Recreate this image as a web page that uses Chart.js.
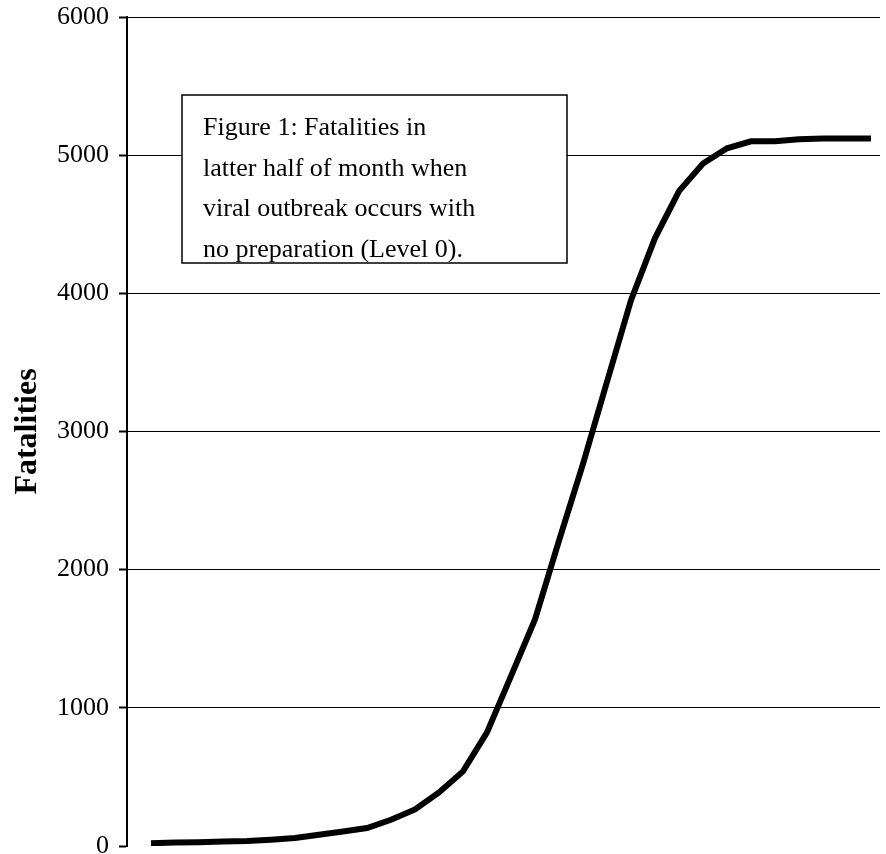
<!DOCTYPE html>
<html>
<head>
<meta charset="utf-8">
<title>Fatalities</title>
<script src="https://cdn.jsdelivr.net/npm/chart.js"></script>
<style>
  html, body { margin: 0; padding: 0; background: #fff; }
  .canvasGraphic { width: 886px; height: 854px; }
</style>
</head>
<body>
<div class="canvasGraphic">
  <canvas id="myCanvas" width="886" height="854"></canvas>
</div>
<script>
// half-day steps over the latter half of the month (no labels shown on the x axis)
const steps = [
  1, 2, 3, 4, 5, 6, 7, 8, 9, 10, 11, 12, 13, 14, 15, 16,
  17, 18, 19, 20, 21, 22, 23, 24, 25, 26, 27, 28, 29, 30, 31];

const fatalities = [
  20, 25, 28, 32, 36, 46, 58, 82, 105, 130, 190, 265, 388, 540, 822, 1230,
  1640, 2210, 2765, 3360, 3950, 4400, 4740, 4940, 5050, 5100, 5100, 5115, 5120, 5120, 5120];

const yTicks = [0, 1000, 2000, 3000, 4000, 5000, 6000];

const noteLines = [
  "Figure 1: Fatalities in",
  "latter half of month when",
  "viral outbreak occurs with",
  "no preparation (Level 0)."];

const serif = "'Liberation Serif', 'Times New Roman', serif";

// white note box with a black frame, sitting on top of the grid lines
const noteBox = {
  id: "noteBox",
  beforeDatasetsDraw(chart) {
    const { ctx, chartArea } = chart;
    const left = chartArea.left + 55;
    const top = chartArea.top + 78;
    const w = 385;
    const h = 168;
    ctx.save();
    ctx.fillStyle = "#fff";
    ctx.fillRect(left, top, w, h);
    ctx.strokeStyle = "#000";
    ctx.lineWidth = 1.5;
    ctx.strokeRect(left, top, w, h);
    ctx.fillStyle = "#000";
    ctx.font = "26px " + serif;
    ctx.textBaseline = "alphabetic";
    noteLines.forEach((line, i) => {
      ctx.fillText(line, left + 21, top + 40 + i * 40.7);
    });
    ctx.restore();
  },
};

const chart = new Chart(document.getElementById("myCanvas"), {
  type: "line",
  data: {
    datasets: [
      {
        label: "Fatalities",
        data: steps.map((s, i) => ({ x: s, y: fatalities[i] })),
        borderColor: "#000",
        borderWidth: 6,
        borderCapStyle: "butt",
        pointRadius: 0,
        fill: false,
        tension: 0,
      },
    ],
  },
  options: {
    responsive: false,
    animation: false,
    layout: { padding: { top: 17, bottom: 8, left: 0, right: 6 } },
    plugins: {
      legend: { display: false },
      tooltip: { enabled: false },
    },
    scales: {
      x: {
        type: "linear",
        display: false,
        min: 0,
        max: 31.375,
      },
      y: {
        min: 0,
        max: 6000,
        afterBuildTicks: (scale) => {
          scale.ticks = yTicks.map((v) => ({ value: v }));
        },
        afterFit: (scale) => {
          scale.width = 127;
          scale.paddingTop = 0;
          scale.paddingBottom = 0;
        },
        border: { display: true, color: "#000", width: 2 },
        grid: {
          color: (c) => (c.tick && c.tick.value === 0 ? "rgba(0,0,0,0)" : "#000"),
          lineWidth: 1,
          tickLength: 8,
          tickColor: "#000",
          tickWidth: 2,
        },
        ticks: {
          color: "#000",
          padding: 10,
          font: { family: serif, size: 26 },
          callback: (v) => String(v),
        },
        title: {
          display: true,
          text: "Fatalities",
          color: "#000",
          padding: { top: 9, bottom: 0 },
          font: { family: serif, size: 32, weight: "bold" },
        },
      },
    },
  },
  plugins: [noteBox],
});
</script>
</body>
</html>
